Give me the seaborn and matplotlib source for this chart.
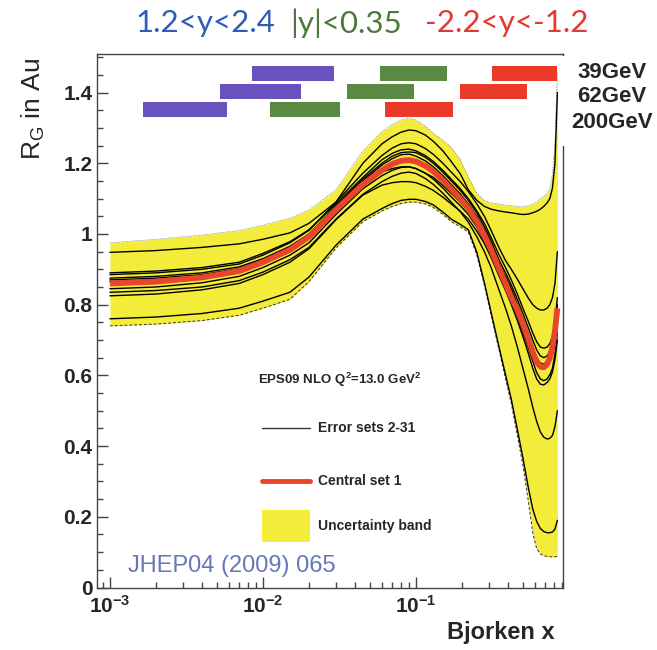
import numpy as np
import pandas as pd
import matplotlib
matplotlib.use("Agg")
import matplotlib.pyplot as plt
import seaborn as sns
from matplotlib.patches import Rectangle
from matplotlib.ticker import MultipleLocator, NullFormatter, LogLocator

sns.set_style("white")
plt.rcParams["font.family"] = ["Liberation Sans", "DejaVu Sans"]

# ---------------- data ----------------
x_grid = [0.001, 0.002, 0.004, 0.007, 0.01, 0.015, 0.02, 0.03, 0.045, 0.06, 0.07, 0.08,
          0.09, 0.1, 0.115, 0.13, 0.15, 0.17, 0.195, 0.22, 0.25, 0.28, 0.31, 0.35,
          0.385, 0.42, 0.46, 0.5, 0.54, 0.58, 0.615, 0.65, 0.685, 0.72, 0.75, 0.78,
          0.81, 0.84]

central = [0.86, 0.865, 0.877, 0.895, 0.92, 0.955, 0.992, 1.068, 1.14, 1.18, 1.198, 1.207,
           1.209, 1.205, 1.193, 1.177, 1.152, 1.127, 1.10, 1.072, 1.035, 0.995, 0.955, 0.9,
           0.86, 0.82, 0.785, 0.745, 0.705, 0.665, 0.638, 0.625, 0.623, 0.632, 0.65, 0.68,
           0.725, 0.79]

band_upper = [0.975, 0.985, 0.997, 1.01, 1.025, 1.045, 1.068, 1.125, 1.235, 1.29, 1.31, 1.322,
              1.328, 1.322, 1.305, 1.285, 1.265, 1.245, 1.21, 1.16, 1.115, 1.095, 1.088, 1.085,
              1.082, 1.08, 1.078, 1.077, 1.08, 1.085, 1.09, 1.10, 1.107, 1.115, 1.13, 1.17,
              1.26, 1.46]
band_lower = [0.74, 0.745, 0.755, 0.77, 0.79, 0.815, 0.865, 0.96, 1.035, 1.065, 1.078, 1.086,
              1.09, 1.09, 1.085, 1.075, 1.055, 1.035, 1.02, 1.005, 0.94, 0.855, 0.77, 0.67,
              0.59, 0.52, 0.43, 0.345, 0.25, 0.155, 0.11, 0.095, 0.09, 0.088, 0.087, 0.087,
              0.087, 0.088]

error_sets = {
    "e1": [0.948, 0.953, 0.962, 0.972, 0.985, 1.003, 1.03, 1.09, 1.2, 1.255, 1.275, 1.288,
           1.294, 1.292, 1.28, 1.262, 1.235, 1.205, 1.17, 1.125, 1.095, 1.078, 1.07, 1.065,
           1.062, 1.06, 1.057, 1.055, 1.056, 1.06, 1.064, 1.07, 1.078, 1.088, 1.10, 1.13,
           1.2, 1.40],
    "e2": [0.76, 0.765, 0.775, 0.79, 0.81, 0.835, 0.878, 0.968, 1.042, 1.072, 1.086, 1.095,
           1.098, 1.098, 1.092, 1.082, 1.062, 1.042, 1.027, 1.012, 0.948, 0.862, 0.778, 0.678,
           0.602, 0.532, 0.447, 0.367, 0.287, 0.222, 0.187, 0.167, 0.158, 0.155, 0.155, 0.157,
           0.165, 0.19],
    "e3": [0.835, 0.84, 0.85, 0.868, 0.892, 0.927, 0.962, 1.042, 1.112, 1.148, 1.163, 1.172,
           1.175, 1.171, 1.157, 1.14, 1.115, 1.09, 1.063, 1.033, 0.992, 0.95, 0.905, 0.84,
           0.79, 0.74, 0.68, 0.62, 0.565, 0.51, 0.47, 0.44, 0.425, 0.42, 0.422, 0.43,
           0.455, 0.50],
    "e4": [0.885, 0.89, 0.9, 0.915, 0.94, 0.975, 1.01, 1.09, 1.172, 1.222, 1.243, 1.255,
           1.258, 1.255, 1.242, 1.225, 1.2, 1.175, 1.148, 1.12, 1.085, 1.05, 1.01, 0.96,
           0.925, 0.9, 0.872, 0.845, 0.82, 0.80, 0.79, 0.785, 0.785, 0.79, 0.80, 0.82,
           0.86, 0.95],
    "e5": [0.875, 0.88, 0.89, 0.907, 0.93, 0.965, 1.0, 1.08, 1.155, 1.2, 1.22, 1.23,
           1.232, 1.23, 1.217, 1.2, 1.175, 1.15, 1.123, 1.095, 1.06, 1.02, 0.98, 0.925,
           0.89, 0.855, 0.815, 0.775, 0.737, 0.70, 0.672, 0.655, 0.65, 0.655, 0.668, 0.69,
           0.73, 0.80],
    "e6": [0.845, 0.85, 0.862, 0.88, 0.905, 0.94, 0.975, 1.055, 1.128, 1.165, 1.18, 1.188,
           1.19, 1.185, 1.172, 1.155, 1.13, 1.105, 1.08, 1.055, 1.02, 0.98, 0.94, 0.885,
           0.848, 0.81, 0.765, 0.72, 0.68, 0.64, 0.608, 0.59, 0.585, 0.59, 0.602, 0.62,
           0.66, 0.72],
    "e8": [0.87, 0.875, 0.885, 0.902, 0.927, 0.962, 0.997, 1.075, 1.15, 1.195, 1.213, 1.224,
           1.226, 1.22, 1.207, 1.19, 1.165, 1.14, 1.113, 1.085, 1.05, 1.01, 0.97, 0.915,
           0.88, 0.845, 0.802, 0.76, 0.72, 0.68, 0.65, 0.635, 0.632, 0.64, 0.655, 0.675,
           0.715, 0.78],
    "e9": [0.89, 0.895, 0.905, 0.92, 0.945, 0.978, 1.012, 1.085, 1.16, 1.21, 1.228, 1.238,
           1.24, 1.235, 1.222, 1.205, 1.18, 1.155, 1.128, 1.1, 1.065, 1.03, 0.99, 0.94,
           0.905, 0.87, 0.83, 0.79, 0.755, 0.72, 0.695, 0.68, 0.677, 0.68, 0.69, 0.71,
           0.75, 0.82],
    "e10": [0.825, 0.83, 0.842, 0.86, 0.885, 0.92, 0.958, 1.04, 1.11, 1.138, 1.145, 1.148,
            1.148, 1.145, 1.135, 1.123, 1.104, 1.085, 1.064, 1.042, 1.008, 0.973, 0.933, 0.88,
            0.84, 0.80, 0.755, 0.71, 0.665, 0.62, 0.59, 0.575, 0.573, 0.58, 0.59, 0.61,
            0.645, 0.70],
    "e11": [0.865, 0.87, 0.88, 0.897, 0.922, 0.957, 0.992, 1.072, 1.14, 1.175, 1.185, 1.19,
            1.19, 1.185, 1.172, 1.16, 1.137, 1.115, 1.09, 1.065, 1.03, 0.99, 0.95, 0.9,
            0.865, 0.83, 0.788, 0.745, 0.705, 0.665, 0.635, 0.62, 0.618, 0.625, 0.638, 0.66,
            0.7, 0.77],
}

# kinematic coverage bars: (x_low, x_high) per energy row, per rapidity window
energies = ["39GeV", "62GeV", "200GeV"]
bar_rows = [1.455, 1.404, 1.353]
fwd_ranges = [(0.00847, 0.0291), (0.00524, 0.0177), (0.00164, 0.00582)]     # 1.2<y<2.4
mid_ranges = [(0.0582, 0.1596), (0.0354, 0.097), (0.0111, 0.0318)]         # |y|<0.35
bwd_ranges = [(0.314, 0.836), (0.194, 0.531), (0.0626, 0.1746)]            # -2.2<y<-1.2
rapidity_labels = ["1.2<y<2.4", "|y|<0.35", "-2.2<y<-1.2"]

y_ticks = [0, 0.2, 0.4, 0.6, 0.8, 1.0, 1.2, 1.4]
y_tick_labels = ["0", "0.2", "0.4", "0.6", "0.8", "1", "1.2", "1.4"]
x_ticks = [1e-3, 1e-2, 1e-1]
x_tick_labels = [r"$\mathregular{10^{-3}}$", r"$\mathregular{10^{-2}}$", r"$\mathregular{10^{-1}}$"]

# ---------------- figure ----------------
W, H = 657, 650
fig = plt.figure(figsize=(W / 100, H / 100), dpi=100)
ax_l, ax_r, ax_t, ax_b = 96.7, 562.7, 54, 587.5
ax = fig.add_axes([ax_l / W, 1 - ax_b / H, (ax_r - ax_l) / W, (ax_b - ax_t) / H])

yellow = "#f3ec3a"
ax.fill_between(x_grid, band_lower, band_upper, color=yellow, lw=0, zorder=1)
ax.plot(x_grid, band_lower, color="#333333", lw=0.7, ls=(0, (3, 2)), zorder=2)
ax.plot(x_grid, band_upper, color="#777777", lw=0.4, ls=(0, (3, 2)), zorder=2)

df_err = pd.DataFrame([
    {"x": xv, "R": rv, "set": name}
    for name, vals in error_sets.items() for xv, rv in zip(x_grid, vals)
])
sns.lineplot(data=df_err, x="x", y="R", units="set", estimator=None, color="black",
             lw=1.0, ax=ax, zorder=3, legend=False)
df_c = pd.DataFrame({"x": x_grid, "R": central})
sns.lineplot(data=df_c, x="x", y="R", color="#e8452c", lw=4.2, ax=ax, zorder=4,
             legend=False, solid_capstyle="butt")

# coverage bars
bar_colors = ["#6a52be", "#5a8a42", "#ea3a2a"]
bar_h = 0.042
for ranges, col in zip([fwd_ranges, mid_ranges, bwd_ranges], bar_colors):
    for yrow, (lo, hi) in zip(bar_rows, ranges):
        ax.barh(yrow, hi - lo, left=lo, height=bar_h, color=col, lw=0, zorder=5)

ax.set_xscale("log")
ax.set_xlim(8.2e-4, 0.91)
ax.set_ylim(0, 1.509)
ax.set_xlabel("")
ax.set_ylabel("")

ax.set_xticks(x_ticks)
ax.set_xticklabels(x_tick_labels, fontsize=15, fontweight="bold")
ax.xaxis.set_minor_locator(LogLocator(base=10, subs=np.arange(2, 10), numticks=20))
ax.xaxis.set_minor_formatter(NullFormatter())
ax.set_yticks(y_ticks)
ax.set_yticklabels(y_tick_labels, fontsize=15, fontweight="bold")
ax.yaxis.set_minor_locator(MultipleLocator(0.05))
ax.tick_params(axis="both", which="major", direction="in", length=8, width=1,
               color="#444444", bottom=True, left=True, top=False, right=False)
ax.tick_params(axis="both", which="minor", direction="in", length=4, width=1,
               color="#444444", bottom=True, left=True, top=False, right=False)
ax.tick_params(axis="y", pad=3)
ax.tick_params(axis="x", pad=5)
for s in ax.spines.values():
    s.set_color("#444444")
    s.set_linewidth(1.0)
    s.set_visible(True)

# legend drawn inside the axes
ax.text(0.346, 0.389, r"EPS09 NLO Q$^\mathregular{2}$=13.0 GeV$^\mathregular{2}$",
        transform=ax.transAxes, fontsize=9.5, fontweight="bold", ha="left", va="center")
ax.plot([0.355, 0.458], [0.299, 0.299], transform=ax.transAxes, color="#333333", lw=1)
ax.text(0.475, 0.299, "Error sets 2-31", transform=ax.transAxes, fontsize=10,
        fontweight="bold", ha="left", va="center")
ax.plot([0.355, 0.458], [0.2, 0.2], transform=ax.transAxes, color="#e8452c", lw=3.5)
ax.text(0.475, 0.2, "Central set 1", transform=ax.transAxes, fontsize=10,
        fontweight="bold", ha="left", va="center")
ax.add_patch(Rectangle((0.355, 0.085), 0.103, 0.06, transform=ax.transAxes,
                       facecolor=yellow, lw=0, zorder=6))
ax.text(0.475, 0.115, "Uncertainty band", transform=ax.transAxes, fontsize=10,
        fontweight="bold", ha="left", va="center")

# figure-level annotations
fig.text(33 / W, 1 - 58 / H, r"$\mathregular{R_G}$ in Au", rotation=90, ha="center",
         va="top", fontsize=19)
fig.text(555 / W, 1 - 633 / H, "Bjorken x", ha="right", va="center", fontsize=17,
         fontweight="bold")
fig.text(128 / W, 1 - 566 / H, "JHEP04 (2009) 065", ha="left", va="center", fontsize=17,
         color="#6577b8")

head_x = [135, 290, 425]
head_cols = ["#2e5cb8", "#4b7a3c", "#e03a32"]
for lab, hx, hc in zip(rapidity_labels, head_x, head_cols):
    fig.text(hx / W, 1 - 23 / H, lab, ha="left", va="center", fontsize=22.5, color=hc,
             family="Lato")

fig.add_artist(Rectangle((559 / W, 1 - 146 / H), (W - 559) / W, 90 / H,
                         transform=fig.transFigure, facecolor="white", lw=0, zorder=5))
for lab, ey in zip(energies, [73, 97, 122]):
    fig.text(612 / W, 1 - ey / H, lab, ha="center", va="center", fontsize=16,
             fontweight="bold", zorder=6)

fig.savefig("out.png", dpi=100)
